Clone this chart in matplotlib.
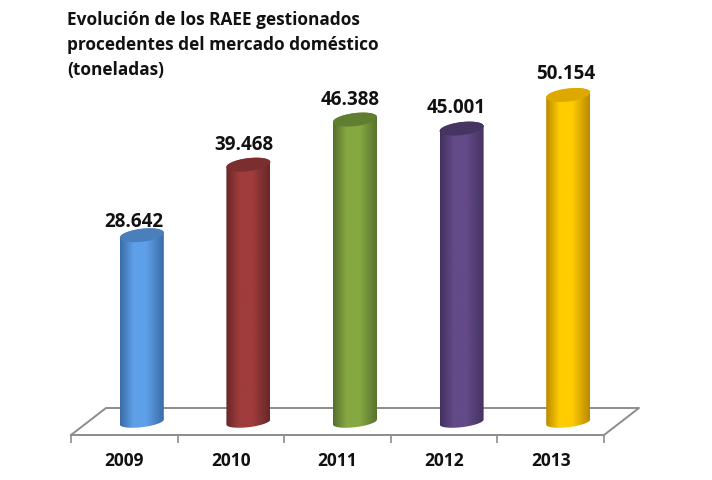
import numpy as np
import matplotlib
matplotlib.use('Agg')
import matplotlib.pyplot as plt
from matplotlib.colors import LinearSegmentedColormap
from matplotlib.patches import Polygon

years = ['2009', '2010', '2011', '2012', '2013']
tonnes = [28642, 39468, 46388, 45001, 50154]
labels = ['28.642', '39.468', '46.388', '45.001', '50.154']

edge_colors = ['#3A6CA6', '#662828', '#566F2C', '#43305E', '#B98A00']
mid_colors = ['#5E9FE8', '#A03C3C', '#86A842', '#634A88', '#FFCC00']
cap_colors = ['#4A7FBC', '#7A2E2E', '#5F7E30', '#463463', '#DDA800']

title = 'Evolución de los RAEE gestionados\nprocedentes del mercado doméstico\n(toneladas)'

W, H = 712, 480
px_x = 106.6           # pixels per category
px_y = 6.52 / 1000     # pixels per tonne
base_px = 422          # image row of value 0
floor_front = 435
floor_back = 408
floor_shift = 35
font = 'Open Sans'

fig = plt.figure(figsize=(W / 100, H / 100), dpi=100)
ax = fig.add_axes([71 / W, (H - floor_front) / H, 533 / W, floor_front / H])
ax.set_xlim(-0.5, 4.5)
ax.set_ylim(-(floor_front - base_px) / px_y, base_px / px_y)

for side in ['top', 'left', 'right']:
    ax.spines[side].set_visible(False)
ax.spines['bottom'].set_color('#8C8C8C')
ax.spines['bottom'].set_linewidth(1.4)
ax.set_yticks([])

# year labels on major ticks, the separators on minor ones
x = np.arange(len(years))
ax.set_xticks(x, years, fontfamily=font, fontweight='bold', fontsize=12.5, color='#111111')
ax.tick_params(axis='x', which='major', length=0, pad=12)
ax.set_xticks(np.arange(len(years) + 1) - 0.5, minor=True)
ax.tick_params(axis='x', which='minor', length=6, width=1.2, color='#8C8C8C')

# floor of the 3d box
y0 = ax.get_ylim()[0]
y1 = (base_px - floor_back) / px_y
dx = floor_shift / px_x
floor_x = [-0.5, -0.5 + dx, 4.5 + dx, 4.5]
floor_y = [y0, y1, y1, y0]
ax.plot(floor_x, floor_y, color='#8C8C8C', lw=1.4, clip_on=False, zorder=1)

half_w = 22 / px_x
semi = 6.5 / px_y
tilt = 2.5 / px_y
t = np.linspace(0, 2 * np.pi, 121)
lower = t[(t >= np.pi)]
upper = t[(t <= np.pi)]
centers = x + dx / 2

for i, value in enumerate(tonnes):
    c = centers[i]
    # body: front half of the base ellipse plus the top ellipse
    bx = c + half_w * np.cos(lower)
    by = semi * 0.8 * np.sin(lower) + tilt * np.cos(lower)
    tx = c + half_w * np.cos(upper)
    ty = value + semi * np.sin(upper) + tilt * np.cos(upper)
    body = Polygon(np.column_stack([np.r_[bx, tx], np.r_[by, ty]]), transform=ax.transData,
                   facecolor='none', edgecolor='none')
    ax.add_patch(body)

    cmap = LinearSegmentedColormap.from_list(
        'cyl', [(0, edge_colors[i]), (0.3, mid_colors[i]), (0.6, mid_colors[i]), (1, edge_colors[i])])
    im = ax.imshow(np.linspace(0, 1, 128).reshape(1, -1), cmap=cmap, aspect='auto', zorder=3,
                   extent=[c - half_w, c + half_w, -semi * 2, value + semi * 2])
    im.set_clip_path(body)

    cap_x = c + half_w * np.cos(t)
    cap_y = value + semi * np.sin(t) + tilt * np.cos(t)
    ax.fill(cap_x, cap_y, color=cap_colors[i], lw=0, zorder=4)

# labels sit a bit left of the bars in the original
label_gap = [13, 20, 20, 21, 21]
label_dx = [-8, -5, -5, -5, -3]
for i, value in enumerate(tonnes):
    ax.text(centers[i] + label_dx[i] / px_x, value + label_gap[i] / px_y, labels[i], ha='center', va='center',
            fontfamily=font, fontweight='bold', fontsize=13.5, color='#111111', zorder=5)

ax.set_xlim(-0.5, 4.5)
ax.set_ylim(-(floor_front - base_px) / px_y, base_px / px_y)

fig.text(67 / W, 1 - 11 / H, title, ha='left', va='top', fontfamily=font, fontweight='bold',
         fontsize=12.45, color='#111111', linespacing=1.5)

fig.savefig('out.png', dpi=100)
